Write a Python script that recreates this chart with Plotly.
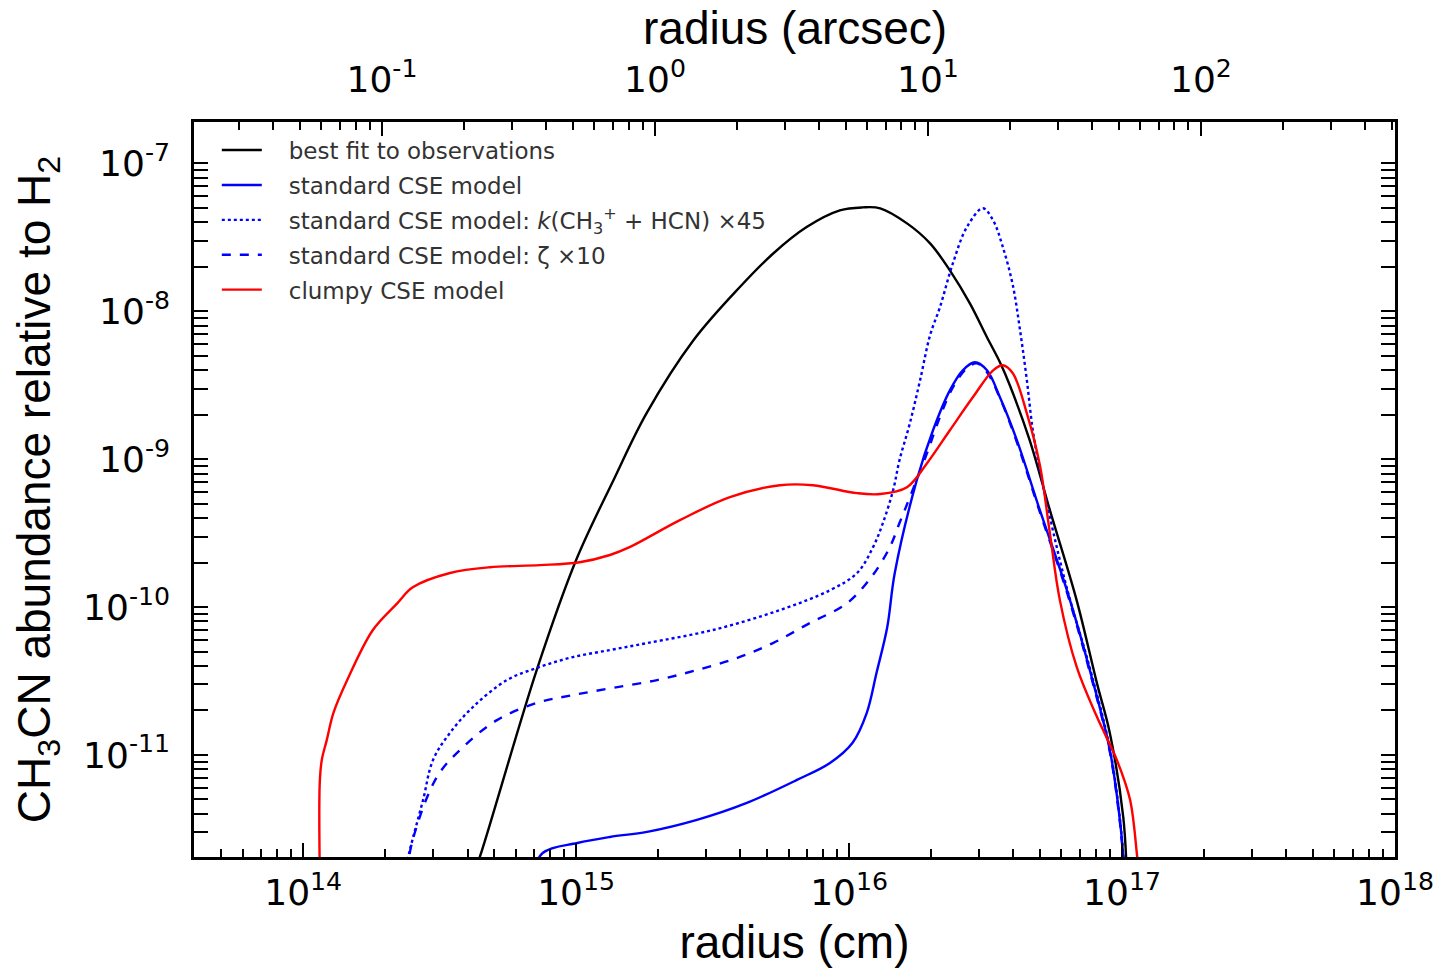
import plotly.graph_objects as go
import numpy as np

# ---------------- data (radius in cm, abundance relative to H2) ----------------
best_r = [4.23e14, 4.44e14, 7.17e14, 1.00e15, 1.37e15, 1.81e15, 2.69e15, 3.98e15, 5.26e15,
          6.99e15, 9.25e15, 1.12e16, 1.30e16, 1.63e16, 1.98e16, 2.34e16, 2.77e16, 3.20e16,
          3.57e16, 3.88e16, 4.59e16, 5.44e16, 6.82e16, 8.09e16, 9.02e16, 1.01e17, 1.04e17]
best_x = [1.62e-12, 2.05e-12, 3.75e-11, 2.08e-10, 7.21e-10, 2.04e-9, 6.37e-9, 1.46e-8, 2.45e-8,
          3.71e-8, 4.81e-8, 5.04e-8, 4.97e-8, 3.93e-8, 2.88e-8, 1.89e-8, 1.13e-8, 6.67e-9,
          4.52e-9, 3.16e-9, 1.34e-9, 4.52e-10, 1.11e-10, 3.06e-11, 1.41e-11, 3.81e-12, 1.62e-12]

std_r = [6.77e14, 7.56e14, 1.01e15, 1.33e15, 1.82e15, 2.77e15, 4.22e15, 6.44e15, 8.51e15,
         1.03e16, 1.16e16, 1.26e16, 1.38e16, 1.47e16, 1.77e16, 2.03e16, 2.34e16, 2.61e16,
         2.89e16, 3.20e16, 3.57e16, 4.12e16, 5.00e16, 6.28e16, 7.62e16, 9.02e16, 9.82e16, 1.02e17]
std_x = [1.43e-12, 2.18e-12, 2.54e-12, 2.79e-12, 3.02e-12, 3.64e-12, 4.74e-12, 6.78e-12, 8.83e-12,
         1.21e-11, 1.92e-11, 3.58e-11, 7.33e-11, 1.70e-10, 7.21e-10, 1.57e-9, 2.92e-9, 3.99e-9,
         4.52e-9, 3.99e-9, 2.62e-9, 1.34e-9, 4.52e-10, 1.30e-10, 3.75e-11, 1.08e-11, 3.64e-12, 1.62e-12]

k45_r = [2.36e14, 2.46e14, 2.75e14, 2.99e14, 3.45e14, 4.19e14, 5.58e14, 7.37e14, 9.73e14,
         1.33e15, 1.82e15, 3.17e15, 5.58e15, 8.51e15, 1.07e16, 1.22e16, 1.33e16, 1.45e16,
         1.53e16, 1.67e16, 1.82e16, 1.98e16, 2.15e16, 2.40e16, 2.70e16, 3.09e16, 3.37e16,
         3.66e16, 3.98e16, 4.23e16, 4.48e16, 4.71e16, 5.00e16, 5.44e16, 6.28e16, 7.62e16,
         9.02e16, 9.82e16, 1.02e17]
k45_x = [1.62e-12, 2.28e-12, 4.97e-12, 9.25e-12, 1.41e-11, 2.11e-11, 3.21e-11, 3.94e-11, 4.59e-11,
         5.12e-11, 5.71e-11, 7.00e-11, 9.55e-11, 1.30e-10, 1.70e-10, 2.51e-10, 3.70e-10, 6.18e-10,
         9.85e-10, 1.75e-9, 3.42e-9, 6.89e-9, 1.06e-8, 2.11e-8, 3.70e-8, 4.97e-8, 4.12e-8,
         2.71e-8, 1.50e-8, 7.44e-9, 3.42e-9, 1.57e-9, 8.43e-10, 4.06e-10, 1.34e-10, 3.87e-11,
         1.11e-11, 3.70e-12, 1.62e-12]

z10_r = [2.40e14, 2.52e14, 3.09e14, 3.85e14, 5.13e14, 7.18e14, 9.73e14, 1.36e15, 1.98e15,
         2.77e15, 3.88e15, 5.26e15, 7.18e15, 9.82e15, 1.22e16, 1.41e16, 1.53e16, 1.67e16,
         1.93e16, 2.15e16, 2.40e16, 2.70e16, 2.94e16, 3.20e16, 3.57e16, 4.12e16, 5.00e16,
         6.28e16, 7.62e16, 9.02e16, 9.82e16, 1.02e17]
z10_x = [1.62e-12, 2.67e-12, 7.10e-12, 1.13e-11, 1.72e-11, 2.25e-11, 2.54e-11, 2.84e-11, 3.21e-11,
         3.75e-11, 4.52e-11, 5.71e-11, 7.80e-11, 1.06e-10, 1.64e-10, 2.54e-10, 3.70e-10, 5.54e-10,
         1.10e-9, 1.92e-9, 3.06e-9, 4.12e-9, 4.45e-9, 3.87e-9, 2.59e-9, 1.30e-9, 4.38e-10,
         1.26e-10, 3.64e-11, 1.05e-11, 3.52e-12, 1.62e-12]

clumpy_r = [1.15e14, 1.15e14, 1.17e14, 1.22e14, 1.29e14, 1.45e14, 1.80e14, 2.21e14, 2.52e14,
            3.45e14, 4.83e14, 7.37e14, 1.03e15, 1.33e15, 1.57e15, 2.40e15, 3.66e15, 5.58e15,
            7.37e15, 1.07e16, 1.30e16, 1.63e16, 1.93e16, 2.34e16, 2.84e16, 3.37e16, 3.66e16,
            3.98e16, 4.48e16, 5.00e16, 5.44e16, 5.92e16, 6.82e16, 8.09e16, 9.57e16, 1.07e17,
            1.14e17, 1.16e17]
clumpy_x = [1.62e-12, 6.47e-12, 9.25e-12, 1.26e-11, 1.92e-11, 3.21e-11, 7.00e-11, 1.06e-10, 1.36e-10,
            1.70e-10, 1.86e-10, 1.92e-10, 2.01e-10, 2.25e-10, 2.54e-10, 3.87e-10, 5.54e-10, 6.67e-10,
            6.67e-10, 5.89e-10, 5.81e-10, 6.47e-10, 9.40e-10, 1.57e-9, 2.62e-9, 3.99e-9, 4.32e-9,
            3.81e-9, 2.04e-9, 9.10e-10, 3.16e-10, 1.11e-10, 3.94e-11, 1.81e-11, 9.25e-12, 4.97e-12,
            1.95e-12, 1.55e-12]

legend_names = [
    "best fit to observations",
    "standard CSE model",
    "standard CSE model: <i>k</i>(CH<sub>3</sub><sup>+</sup> + HCN) ×45",
    "standard CSE model: ζ ×10",
    "clumpy CSE model",
]

x_tick_exps = [14, 15, 16, 17, 18]
y_tick_exps = [-11, -10, -9, -8, -7]
x2_tick_exps = [-1, 0, 1, 2]

distance_pc = 130.0
cm_per_arcsec = distance_pc * 1.496e13

x_range_cm = [13.6, 18.0]          # log10
y_range = [-11.69, -6.72]          # log10

FONT = "DejaVu Sans"
TITLE_FONT = "Liberation Sans"
PAD = "\u00a0\u00a0\u00a0"

fig = go.Figure()

series = [
    (best_r, best_x, "black", "solid"),
    (std_r, std_x, "blue", "solid"),
    (k45_r, k45_x, "blue", "dot"),
    (z10_r, z10_x, "blue", "dash"),
    (clumpy_r, clumpy_x, "red", "solid"),
]
for i, (r, a, col, dash) in enumerate(series):
    fig.add_trace(go.Scatter(
        x=r, y=a, mode="lines", name=PAD + legend_names[i], legendgroup=f"g{i}",
        line=dict(color=col, width=2.4, dash=dash, shape="spline", smoothing=1.0),
        xaxis="x", yaxis="y",
    ))

# invisible trace for the top (arcsec) axis
fig.add_trace(go.Scatter(
    x=[10 ** x_range_cm[0] / cm_per_arcsec, 10 ** x_range_cm[1] / cm_per_arcsec],
    y=[10 ** y_range[0], 10 ** y_range[0]],
    mode="lines", line=dict(width=0), showlegend=False, hoverinfo="skip",
    xaxis="x2", yaxis="y",
))

def minor_vals(lo, hi):
    vals = []
    for e in range(int(np.floor(lo)), int(np.ceil(hi)) + 1):
        for m in range(2, 10):
            v = m * 10.0 ** e
            if lo <= np.log10(v) <= hi:
                vals.append(v)
    return vals

def pow_labels(exps):
    return [10.0 ** e for e in exps], [f"10<sup>{e}</sup>" for e in exps]

a_off = np.log10(cm_per_arcsec)
xv, xt = pow_labels(x_tick_exps)
yv, yt = pow_labels(y_tick_exps)
x2v, x2t = pow_labels(x2_tick_exps)

tick_common = dict(
    ticks="inside", ticklen=14, tickwidth=2, tickcolor="black",
    showgrid=False, zeroline=False, automargin=False,
    tickfont=dict(family=FONT, size=36, color="black"),
)
minor_common = dict(ticks="inside", ticklen=8, tickwidth=1.5, tickcolor="black", showgrid=False)

fig.update_layout(
    width=1435, height=970,
    margin=dict(l=194, r=40, t=122, b=113),
    plot_bgcolor="white", paper_bgcolor="white",
    showlegend=True,
    legend=dict(
        x=0.019, y=0.991, xanchor="left", yanchor="top",
        bgcolor="rgba(0,0,0,0)", borderwidth=0,
        font=dict(family=FONT, size=23, color="#333333"),
        tracegroupgap=2, itemwidth=40,
    ),
    xaxis=dict(
        type="log", range=x_range_cm, tickmode="array", tickvals=xv, ticktext=xt,
        minor=dict(tickvals=minor_vals(*x_range_cm), **minor_common),
        showline=True, linecolor="black", linewidth=2.5, mirror=True,
        ticklabelstandoff=2,
        title=dict(text="radius (cm)", font=dict(family=TITLE_FONT, size=46, color="black"),
                   standoff=14),
        **tick_common,
    ),
    xaxis2=dict(
        type="log", overlaying="x", side="top",
        range=[x_range_cm[0] - a_off, x_range_cm[1] - a_off],
        tickmode="array", tickvals=x2v, ticktext=x2t,
        minor=dict(tickvals=minor_vals(x_range_cm[0] - a_off, x_range_cm[1] - a_off),
                   **minor_common),
        showline=False, ticklabelstandoff=22,
        **tick_common,
    ),
    yaxis=dict(
        type="log", range=y_range, tickmode="array", tickvals=yv, ticktext=yt,
        minor=dict(tickvals=minor_vals(*y_range), **minor_common),
        showline=True, linecolor="black", linewidth=2.5, mirror="allticks",
        ticklabelstandoff=14,
        title=dict(text="CH<sub>3</sub>CN abundance relative to H<sub>2</sub>",
                   font=dict(family=TITLE_FONT, size=46, color="black"), standoff=18),
        **tick_common,
    ),
    annotations=[dict(
        text="radius (arcsec)", xref="paper", yref="paper", x=0.5, y=1.128,
        xanchor="center", yanchor="middle", showarrow=False,
        font=dict(family=TITLE_FONT, size=46, color="black"),
    )],
)

fig.write_html("out.html")
